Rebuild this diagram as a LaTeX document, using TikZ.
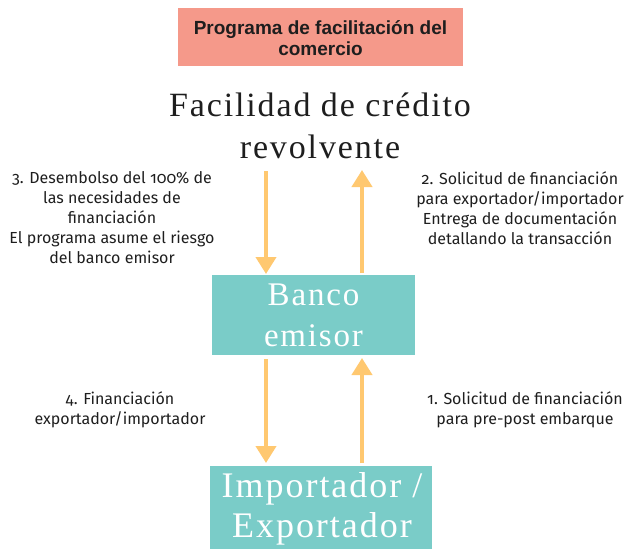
\documentclass[tikz,border=0pt]{standalone}
\usepackage{fontspec}
\newfontfamily\titlefont{Liberation Sans}
\newfontfamily\labelfont[Numbers=OldStyle]{Fira Sans}
\newfontfamily\bigserif[LetterSpace=5.5]{Liberation Serif}
\usetikzlibrary{arrows.meta}
\definecolor{salmon}{RGB}{245,153,138}
\definecolor{teal}{RGB}{122,204,200}
\definecolor{arrowc}{RGB}{255,200,112}
\definecolor{txt}{RGB}{30,30,30}
\tikzset{
  x=1pt, y=-1pt,
  flow/.style={draw=arrowc, line width=4pt, -{Triangle[width=20pt,length=17pt]}},
  lab/.style={font=\labelfont\fontsize{16}{20}\selectfont, text=txt, align=center, inner sep=0pt},
  tealbox/.style={fill=teal, draw=none, inner sep=0pt},
  boxtext/.style={text=white, align=center, inner sep=0pt},
}
\begin{document}
\begin{tikzpicture}
\useasboundingbox (0,0) rectangle (630,549);
% top title
\node[fill=salmon, minimum width=285pt, minimum height=58pt, inner sep=0pt] (prog) at (320.5,37) {};
\node[font=\titlefont\bfseries\fontsize{19}{21}\selectfont, text=txt, align=center] (progt) at (320.5,38) {Programa de facilitación del\\comercio};
% facility
\node[font=\bigserif\fontsize{34}{42}\selectfont, text=txt, align=center, inner sep=0pt] (fac) at (320,126) {Facilidad de crédito\\revolvente};
% boxes
\node[tealbox, minimum width=203pt, minimum height=80pt] (banco) at (313.5,315) {};
\node[boxtext, font=\bigserif\fontsize{33}{41}\selectfont] (bancot) at (banco.center) {Banco\\emisor};
\node[tealbox, minimum width=222pt, minimum height=84pt] (imp) at (321,508) {};
\node[boxtext, font=\bigserif\fontsize{36}{40}\selectfont] (impt) at (322,509) {Importador /\\Exportador};
% arrow coordinates
\coordinate (a1s) at (266,171);
\coordinate (a1e) at (266,274);
\coordinate (a2s) at (362,273);
\coordinate (a2e) at (362,170);
\coordinate (a3s) at (266,359);
\coordinate (a3e) at (266,463);
\coordinate (a4s) at (362,463);
\coordinate (a4e) at (362,358);
\draw[flow] (a1s) -- (a1e);
\draw[flow] (a2s) -- (a2e);
\draw[flow] (a3s) -- (a3e);
\draw[flow] (a4s) -- (a4e);
% labels
\node[lab] (l3) at (112,218) {3. Desembolso del 100\% de\\las necesidades de\\financiación\\El programa asume el riesgo\\del banco emisor};
\node[lab] (l2) at (520,208) {2. Solicitud de financiación\\para exportador/importador\\Entrega de documentación\\detallando la transacción};
\node[lab] (l4) at (120,410) {4. Financiación\\exportador/importador};
\node[lab] (l1) at (525,410) {1. Solicitud de financiación\\para pre-post embarque};
\end{tikzpicture}
\end{document}
